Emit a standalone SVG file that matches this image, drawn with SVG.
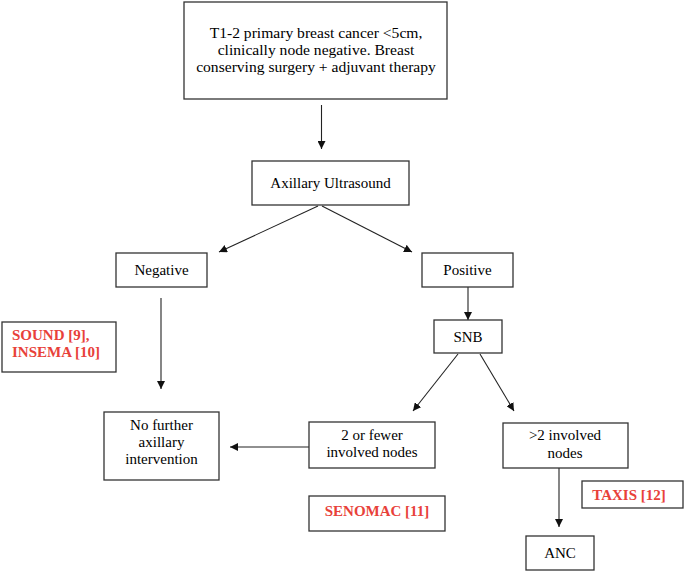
<svg xmlns="http://www.w3.org/2000/svg" width="685" height="572" viewBox="0 0 685 572">
<defs>
<marker id="ah" viewBox="0 0 10 10" refX="10" refY="5" markerWidth="8" markerHeight="8" markerUnits="userSpaceOnUse" orient="auto">
<path d="M0,0 L10,5 L0,10 z" fill="#111"/>
</marker>
<style>
.box{fill:#fff;stroke:#333;stroke-width:1.3}
.t{font-family:"Liberation Serif","Times New Roman",serif;font-size:15px;fill:#000;text-anchor:middle}
.big{font-size:15.6px}
.r{font-family:"Liberation Serif","Times New Roman",serif;font-size:15px;font-weight:bold;fill:#e8413a}
.c{stroke:#222;stroke-width:1.1;fill:none;marker-end:url(#ah)}
</style>
</defs>
<rect width="685" height="572" fill="#fff"/>
<g id="connectors">
<line class="c" x1="321.5" y1="105" x2="321.5" y2="149"/>
<line class="c" x1="318" y1="206" x2="219" y2="252"/>
<line class="c" x1="322" y1="206" x2="412" y2="252"/>
<line class="c" x1="161" y1="298" x2="161" y2="389"/>
<line class="c" x1="468" y1="287" x2="468" y2="320"/>
<line class="c" x1="458" y1="354" x2="413" y2="411"/>
<line class="c" x1="480" y1="354" x2="514" y2="411"/>
<line class="c" x1="309" y1="447" x2="230" y2="447"/>
<line class="c" x1="559" y1="468" x2="559" y2="527"/>
</g>
<g id="n-top">
<rect class="box" x="184" y="2" width="263" height="97"/>
<text class="t big" x="316" y="38">T1-2 primary breast cancer &lt;5cm,</text>
<text class="t big" x="316" y="55">clinically node negative. Breast</text>
<text class="t big" x="316" y="72">conserving surgery + adjuvant therapy</text>
</g>
<g id="n-us">
<rect class="box" x="252" y="161" width="157" height="44"/>
<text class="t" x="330.5" y="188">Axillary Ultrasound</text>
</g>
<g id="n-neg">
<rect class="box" x="116" y="253" width="91" height="34"/>
<text class="t" x="161.5" y="275">Negative</text>
</g>
<g id="n-pos">
<rect class="box" x="422" y="253" width="91" height="34"/>
<text class="t" x="467.5" y="275">Positive</text>
</g>
<g id="n-sound">
<rect class="box" x="2" y="322" width="114" height="50"/>
<text class="r" x="12" y="340">SOUND [9],</text>
<text class="r" x="12" y="357">INSEMA [10]</text>
</g>
<g id="n-snb">
<rect class="box" x="434" y="320" width="68" height="33"/>
<text class="t" x="468" y="342">SNB</text>
</g>
<g id="n-nofurther">
<rect class="box" x="104" y="412" width="115" height="68"/>
<text class="t" x="161.5" y="430">No further</text>
<text class="t" x="161.5" y="447">axillary</text>
<text class="t" x="161.5" y="464">intervention</text>
</g>
<g id="n-2fewer">
<rect class="box" x="309" y="422" width="126" height="46"/>
<text class="t" x="372" y="440">2 or fewer</text>
<text class="t" x="372" y="457">involved nodes</text>
</g>
<g id="n-gt2">
<rect class="box" x="503" y="423" width="125" height="45"/>
<text class="t" x="565" y="440">&gt;2 involved</text>
<text class="t" x="565" y="458">nodes</text>
</g>
<g id="n-senomac">
<rect class="box" x="309" y="496" width="136" height="35"/>
<text class="r" x="377" y="516" text-anchor="middle">SENOMAC [11]</text>
</g>
<g id="n-taxis">
<rect class="box" x="582" y="481" width="101" height="27"/>
<text class="r" x="629" y="500" text-anchor="middle">TAXIS [12]</text>
</g>
<g id="n-anc">
<rect class="box" x="526" y="536" width="68" height="34"/>
<text class="t" x="560" y="558">ANC</text>
</g>
</svg>
